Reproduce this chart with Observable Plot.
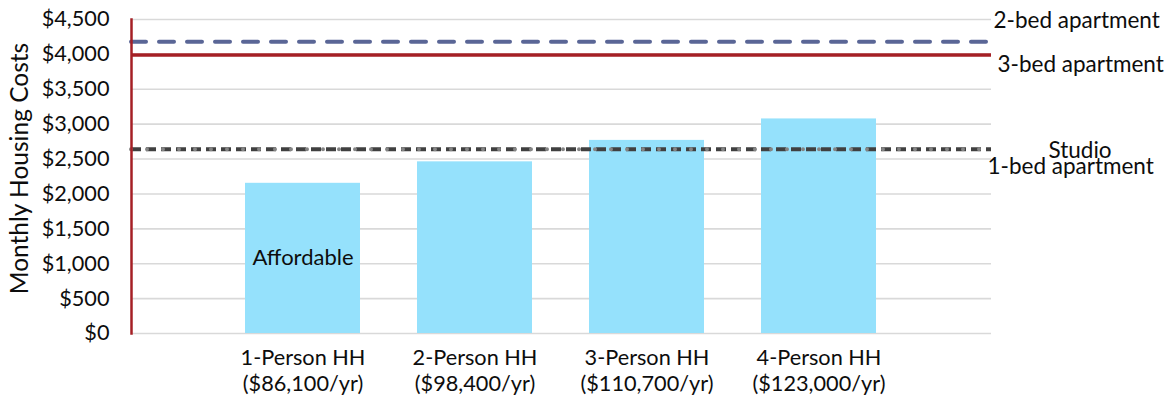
<!DOCTYPE html>
<html>
<head>
<meta charset="utf-8">
<script src="https://cdn.jsdelivr.net/npm/d3@7"></script>
<script src="https://cdn.jsdelivr.net/npm/@observablehq/plot@0.6"></script>
<style>
  html, body { margin: 0; padding: 0; background: #fff; }
  #chart { width: 1171px; height: 400px; }
</style>
</head>
<body>
<div id="chart"></div>
<script>
// Household categories (x axis) and their annual incomes
const categories = ["1-Person HH", "2-Person HH", "3-Person HH", "4-Person HH"];
const incomes = ["($86,100/yr)", "($98,400/yr)", "($110,700/yr)", "($123,000/yr)"];
// Affordable monthly housing cost for each household
const affordable = [2152.5, 2460, 2767.5, 3075];
const barLabel = "Affordable";
// Monthly rents for apartment types (reference lines)
const rentNames = ["2-bed apartment", "3-bed apartment", "Studio", "1-bed apartment"];
const rentValues = [4180, 3990, 2640, 2640];
// y ticks
const yTicks = [0, 500, 1000, 1500, 2000, 2500, 3000, 3500, 4000, 4500];

const font = "Lato, 'Open Sans', sans-serif";
const ink = "#0d0d0d";
const fs = 21.7;

const bars = categories.map((c, i) => ({cat: c, value: affordable[i]}));
const rents = rentNames.map((n, i) => ({name: n, value: rentValues[i]}));
const rent = (n) => rents.filter(d => d.name === n);

const plot = Plot.plot({
  width: 1171,
  height: 400,
  marginLeft: 131,
  marginRight: 180,
  marginTop: 19,
  marginBottom: 67,
  style: {fontFamily: font, fontSize: fs + "px", color: ink, background: "#fff"},
  x: {domain: categories, paddingInner: 0.331, paddingOuter: 0.1655, insetLeft: 86, insetRight: 86},
  y: {domain: [0, 4500]},
  marks: [
    Plot.gridY(yTicks, {stroke: "#d9d9d9", strokeOpacity: 1, strokeWidth: 1.6}),
    Plot.barY(bars, {x: "cat", y: "value", fill: "#95e1fc"}),
    Plot.text([0], {x: i => categories[i], y: i => affordable[i] / 2, text: () => barLabel, fill: ink, fontSize: 22}),
    // Studio (dark dashes) and 1-bed (grey dots)
    Plot.ruleY(rent("Studio"), {y: "value", stroke: "#404040", strokeWidth: 4, strokeDasharray: "10,5"}),
    Plot.ruleY(rent("1-bed apartment"), {y: "value", stroke: "#858585", strokeWidth: 4, strokeDasharray: "0,16", strokeLinecap: "round"}),
    Plot.ruleY(rent("3-bed apartment"), {y: "value", stroke: "#a51f25", strokeWidth: 3.5}),
    Plot.ruleY(rent("2-bed apartment"), {y: "value", stroke: "#5a6696", strokeWidth: 4, strokeDasharray: "15,13", strokeLinecap: "round"}),
    Plot.frame({anchor: "left", stroke: "#a51f25", strokeWidth: 2.5}),
    Plot.axisY({ticks: yTicks, tickSize: 0, tickPadding: 22, tickFormat: d3.format("$,"), fontSize: fs, label: null}),
    Plot.axisX({tickSize: 0, tickPadding: 13, fontSize: fs, lineHeight: 1.2, label: null,
      tickFormat: (d) => d + "\n" + incomes[categories.indexOf(d)]}),
    Plot.text(["Monthly Housing Costs"], {frameAnchor: "left", textAnchor: "middle", rotate: -90, dx: -111, dy: -8, fontSize: 24.5, fill: ink}),
    Plot.text(rent("2-bed apartment"), {y: "value", text: "name", frameAnchor: "right", textAnchor: "start", dx: 2, dy: -21, fill: ink, fontSize: 22.5}),
    Plot.text(rent("3-bed apartment"), {y: "value", text: "name", frameAnchor: "right", textAnchor: "start", dx: 6, dy: 10, fill: ink, fontSize: 22.5}),
    Plot.text(rent("Studio"), {y: "value", text: "name", frameAnchor: "right", textAnchor: "start", dx: 57, dy: 2, fill: ink, fontSize: 22.5}),
    Plot.text(rent("1-bed apartment"), {y: "value", text: "name", frameAnchor: "right", textAnchor: "start", dx: -4, dy: 18, fill: ink, fontSize: 22.5})
  ]
});
document.getElementById("chart").appendChild(plot);
</script>
</body>
</html>
